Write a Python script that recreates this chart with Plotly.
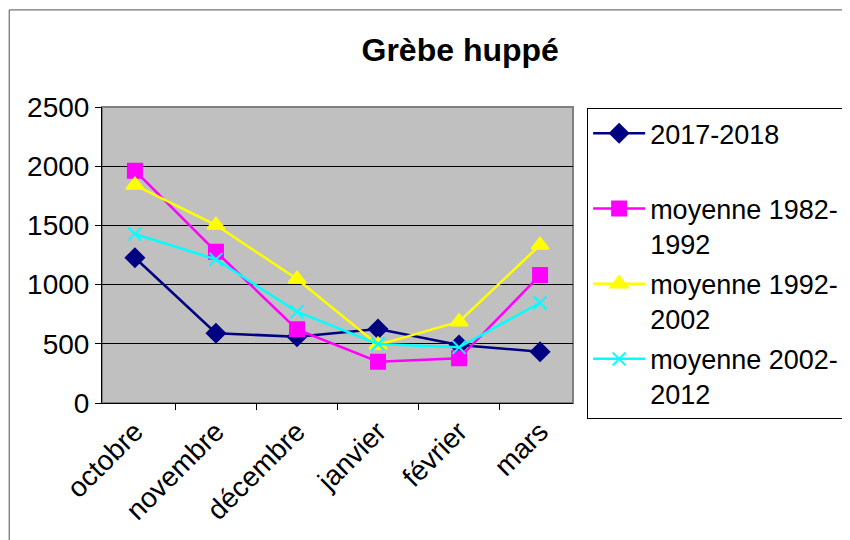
import plotly.graph_objects as go

months = ["octobre", "novembre", "décembre", "janvier", "février", "mars"]

s_2017 = [1227, 589, 560, 625, 490, 433]
s_1982 = [1962, 1278, 622, 349, 377, 1081]
s_1992 = [1841, 1503, 1047, 490, 687, 1334]
s_2002 = [1427, 1213, 771, 498, 470, 847]

series = [
    ("2017-2018<br> ", s_2017, "#000080", "diamond", 14),
    ("moyenne 1982-<br>1992", s_1982, "#FF00FF", "square", 14),
    ("moyenne 1992-<br>2002", s_1992, "#FFFF00", "triangle-up", 15),
    ("moyenne 2002-<br>2012", s_2002, "#00FFFF", "x-thin", 13),
]

FONT = "Arial, Liberation Sans, sans-serif"

fig = go.Figure()
for i, (name, vals, color, symbol, size) in enumerate(series):
    fig.add_trace(
        go.Scatter(
            x=months,
            y=vals,
            name=name,
            legendgroup=f"g{i}",
            mode="lines+markers",
            line=dict(color=color, width=2.5),
            marker=dict(symbol=symbol, size=size, color=color,
                        line=dict(color=color, width=2)),
        )
    )

# the page body adds an 8px offset, so the margins are shifted by that amount
fig.update_layout(
    width=850,
    height=540,
    margin=dict(l=94, r=285, t=99, b=145, autoexpand=False),
    paper_bgcolor="white",
    plot_bgcolor="#C0C0C0",
    font=dict(family=FONT, size=28, color="black"),
    title=dict(text="<b>Grèbe huppé</b>", x=0.532, xref="container", xanchor="center",
               y=0.922, yanchor="middle", font=dict(size=32, family=FONT)),
    legend=dict(
        x=1.03, y=0.996, xanchor="left", yanchor="top",
        bordercolor="black", borderwidth=1, bgcolor="white",
        font=dict(size=27, family=FONT), valign="top",
        tracegroupgap=2, itemwidth=52, maxheight=400,
    ),
    showlegend=True,
)

fig.update_xaxes(
    type="category",
    tickangle=-45,
    automargin=False,
    showline=True, linecolor="black", linewidth=1,
    ticks="outside", tickson="boundaries", ticklen=6, tickcolor="black",
    showgrid=False, mirror=False,
)
fig.update_yaxes(
    range=[0, 2500], dtick=500,
    automargin=False,
    showline=True, linecolor="black", linewidth=1,
    ticks="outside", ticklen=6, tickcolor="black",
    showgrid=True, gridcolor="black", gridwidth=1,
    zeroline=False,
)

# gray border of the plot area and outer chart frame
fig.add_shape(type="rect", xref="paper", yref="paper", x0=0, x1=1, y0=0, y1=1,
              line=dict(color="#808080", width=2), layer="below")
fig.add_shape(type="rect", xref="paper", yref="paper", x0=-0.197, x1=1.6, y0=-0.6, y1=1.328,
              line=dict(color="#505050", width=1))

fig.write_html("out.html")
